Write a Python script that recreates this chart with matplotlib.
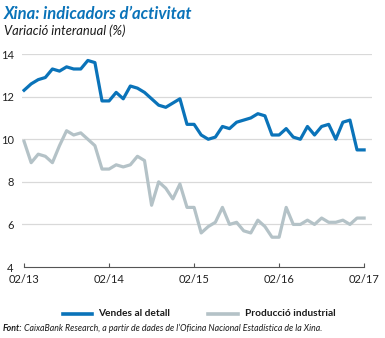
import numpy as np
import matplotlib
matplotlib.use("Agg")
import matplotlib.pyplot as plt
from matplotlib.lines import Line2D

plt.rcParams['font.family'] = ['Lato', 'DejaVu Sans']

# Monthly year-on-year change, 02/2013 to 02/2017 (Jan and Feb share the combined Jan-Feb figure)
retail_sales = [
    12.3, 12.6, 12.8, 12.9, 13.3, 13.2, 13.4, 13.3, 13.3, 13.7, 13.6,
    11.8, 11.8, 12.2, 11.9, 12.5, 12.4, 12.2, 11.9, 11.6, 11.5, 11.7, 11.9,
    10.7, 10.7, 10.2, 10.0, 10.1, 10.6, 10.5, 10.8, 10.9, 11.0, 11.2, 11.1,
    10.2, 10.2, 10.5, 10.1, 10.0, 10.6, 10.2, 10.6, 10.7, 10.0, 10.8, 10.9,
    9.5, 9.5,
]
industrial_output = [
    9.9, 8.9, 9.3, 9.2, 8.9, 9.7, 10.4, 10.2, 10.3, 10.0, 9.7,
    8.6, 8.6, 8.8, 8.7, 8.8, 9.2, 9.0, 6.9, 8.0, 7.7, 7.2, 7.9,
    6.8, 6.8, 5.6, 5.9, 6.1, 6.8, 6.0, 6.1, 5.7, 5.6, 6.2, 5.9,
    5.4, 5.4, 6.8, 6.0, 6.0, 6.2, 6.0, 6.3, 6.1, 6.1, 6.2, 6.0,
    6.3, 6.3,
]
tick_labels = ['02/13', '02/14', '02/15', '02/16', '02/17']
y_ticks = [4, 6, 8, 10, 12, 14]
series_names = ['Vendes al detall', 'Producció industrial']

blue = '#0a73b9'
grey = '#b4c2c7'

months = np.arange(len(retail_sales))

fig = plt.figure(figsize=(3.85, 3.38), dpi=100)
ax = fig.add_axes([0.057, 0.210, 0.909, 0.630])

ax.plot(months, retail_sales, color=blue, lw=2.3, solid_joinstyle='round', zorder=3)
ax.plot(months, industrial_output, color=grey, lw=2.3, solid_joinstyle='round', zorder=2)

ax.set_xlim(-0.3, 49.1)
ax.set_ylim(4, 14)
ax.set_yticks(y_ticks)
for y in y_ticks[1:]:
    ax.axhline(y, color='#d9d9d9', lw=0.9, zorder=1)

ax.set_xticks(np.arange(0, len(retail_sales), 12))
ax.set_xticklabels(tick_labels)

for side in ['top', 'right', 'left']:
    ax.spines[side].set_visible(False)
ax.spines['bottom'].set_bounds(0, 48)
ax.spines['bottom'].set_color('#555555')
ax.spines['bottom'].set_linewidth(0.8)

ax.tick_params(axis='x', direction='in', length=3, width=0.8, color='#555555',
               labelsize=8, pad=5, labelcolor='#222222')
ax.tick_params(axis='y', length=0, labelsize=8, pad=6, labelcolor='#222222')

fig.text(0.010, 0.945, 'Xina: indicadors d\u2019activitat', color=blue,
         fontsize=12, fontweight='bold', fontstyle='italic', va='baseline')
fig.text(0.010, 0.895, 'Variació interanual (%)', color='#1a1a1a',
         fontsize=9.3, fontstyle='italic', va='baseline')

# legend drawn by hand in figure pixels
W, H = 385.0, 338.0
leg_y = 1 - 314 / H
for (x0, x1, xt), col, name in zip([(63, 92, 98), (208, 238, 245)], [blue, grey], series_names):
    fig.add_artist(Line2D([x0 / W, x1 / W], [leg_y, leg_y], color=col, lw=2.6,
                          transform=fig.transFigure))
    fig.text(xt / W, leg_y, name, fontsize=7.3, fontweight='bold', color='#1a1a1a',
             va='center')

fig.text(0.008, 0.022, 'Font:', fontsize=6.3, fontweight='bold',
         fontstyle='italic', color='#1a1a1a', va='baseline')
fig.text(0.063, 0.022,
         'CaixaBank Research, a partir de dades de l\u2019Oficina Nacional Estadística de la Xina.',
         fontsize=6.3, fontstyle='italic', color='#1a1a1a', va='baseline')

fig.savefig('out.png', dpi=100)
